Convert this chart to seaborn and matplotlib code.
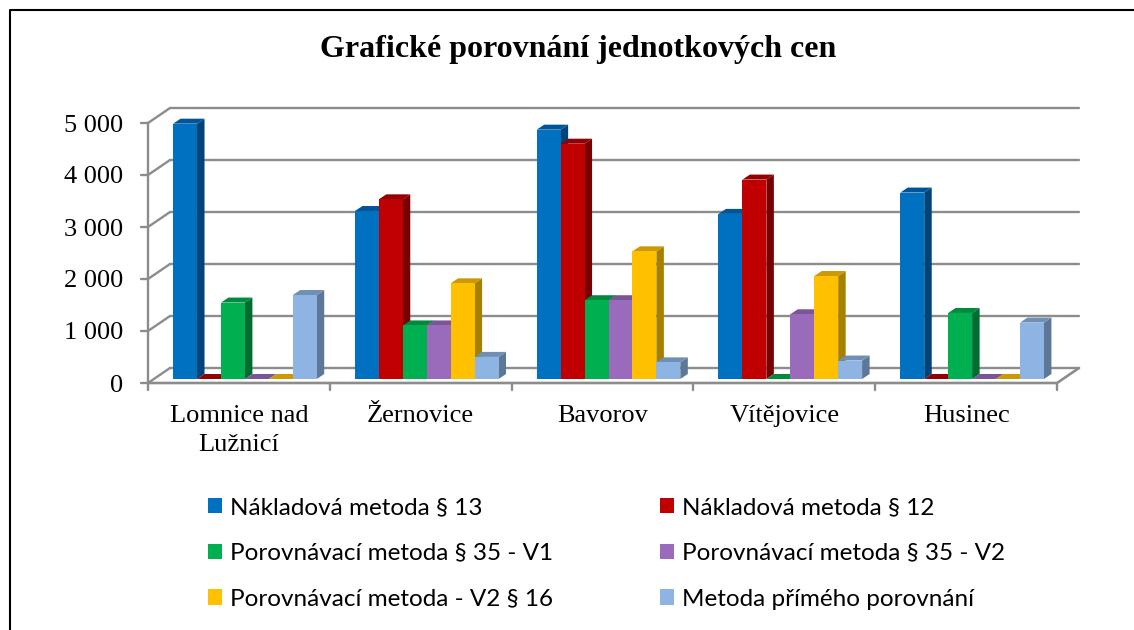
import numpy as np
import pandas as pd
import seaborn as sns
import matplotlib
matplotlib.use("Agg")
import matplotlib.pyplot as plt
from matplotlib.patches import Polygon, Patch
from matplotlib.lines import Line2D
from matplotlib.transforms import ScaledTranslation, IdentityTransform

# ---------------- data ----------------
categories = ["Lomnice nad\nLužnicí", "Žernovice", "Bavorov", "Vítějovice", "Husinec"]
series = ["Nákladová metoda § 13", "Nákladová metoda § 12",
          "Porovnávací metoda § 35 - V1", "Porovnávací metoda § 35 - V2",
          "Porovnávací metoda - V2 § 16", "Metoda přímého porovnání"]
naklad_13 = [4910, 3230, 4795, 3175, 3585]
naklad_12 = [0, 3455, 4525, 3835, 0]
porov_v1 = [1470, 1030, 1515, 0, 1270]
porov_v2 = [0, 1030, 1515, 1245, 0]
porov_16 = [0, 1840, 2455, 1980, 0]
prime = [1615, 425, 320, 355, 1085]
yticks = [0, 1000, 2000, 3000, 4000, 5000]
ytick_labels = ["0", "1 000", "2 000", "3 000", "4 000", "5 000"]
title = "Grafické porovnání jednotkových cen"

front_colors = ["#0070C0", "#C00000", "#00B050", "#9A6BBA", "#FFC000", "#8DB4E2"]
top_colors = ["#00559A", "#920000", "#008A3E", "#7A5698", "#CC9A00", "#6F8FB5"]
side_colors = ["#00447A", "#780000", "#006C30", "#654780", "#A88000", "#5C7896"]

values = [naklad_13, naklad_12, porov_v1, porov_v2, porov_16, prime]
df = pd.DataFrame([(c, s, v) for s, vals in zip(series, values) for c, v in zip(categories, vals)],
                  columns=["cat", "series", "value"])

# ---------------- figure ----------------
W, H, DPI = 1134, 630, 100
sns.set_theme(style="white")
plt.rcParams["font.family"] = ["Liberation Serif", "DejaVu Serif"]
plt.rcParams["text.color"] = "black"
plt.rcParams["xtick.color"] = "black"
plt.rcParams["ytick.color"] = "black"
fig = plt.figure(figsize=(W / DPI, H / DPI), dpi=DPI)
fig.patch.set_facecolor("white")

# axes = plane of the bar fronts (pixel geometry measured from reference)
x_left, x_right = 154, 1063
y_zero, y_top = 379, 119
ax = fig.add_axes([x_left / W, 1 - y_zero / H, (x_right - x_left) / W, (y_zero - y_top) / H])
ax.set_facecolor("none")

sns.barplot(data=df, x="cat", y="value", hue="series", hue_order=series,
            palette=front_colors, width=0.79, saturation=1, ax=ax, legend=False)
bar_patches = list(ax.patches)
ax.set_xlim(-0.5, len(categories) - 0.5)
ax.set_ylim(0, 5000)
for s in ax.spines.values():
    s.set_visible(False)
ax.set_xlabel("")
ax.set_ylabel("")

# depth geometry (pixels, relative to bar plane)
FRONT = np.array([-6.0, -4.0])
BACK = np.array([16.0, 11.0])
BAR_D = np.array([7.5, 5.0])

def P(x, y, off):
    p = ax.transData.transform((x, y))
    return p + off

grid_c = "#8C8C8C"
ID = IdentityTransform()
x0, x1 = -0.5, len(categories) - 0.5

# floor
floor = [P(x0, 0, FRONT), P(x1, 0, FRONT), P(x1, 0, BACK), P(x0, 0, BACK)]
ax.add_artist(Polygon(floor, closed=True, facecolor="white", edgecolor="none",
                      transform=ID, zorder=1, clip_on=False))
# back wall & left wall gridlines
for v in yticks:
    a, b = P(x0, v, BACK), P(x1, v, BACK)
    ax.add_artist(Line2D([a[0], b[0]], [a[1], b[1]], color=grid_c, lw=1.7,
                         transform=ID, zorder=2, clip_on=False))
    f = P(x0, v, FRONT)
    ax.add_artist(Line2D([f[0], a[0]], [f[1], a[1]], color=grid_c, lw=1.7,
                         transform=ID, zorder=2, clip_on=False))
    ax.add_artist(Line2D([f[0] - 7, f[0]], [f[1], f[1]], color=grid_c, lw=1.7,
                         transform=ID, zorder=2, clip_on=False))
# floor front & right edges
fa, fb, bb = P(x0, 0, FRONT), P(x1, 0, FRONT), P(x1, 0, BACK)
ax.add_artist(Line2D([fa[0], fb[0], bb[0]], [fa[1], fb[1], bb[1]], color=grid_c, lw=1.9,
                     transform=ID, zorder=2, clip_on=False))
# vertical axis
top = P(x0, 5000, FRONT)
ax.add_artist(Line2D([fa[0], top[0]], [fa[1], top[1]], color=grid_c, lw=1.7,
                     transform=ID, zorder=2, clip_on=False))
# category tick marks
for i in range(len(categories) + 1):
    p = P(x0 + i, 0, FRONT)
    ax.add_artist(Line2D([p[0], p[0]], [p[1], p[1] - 7], color=grid_c, lw=1.7,
                         transform=ID, zorder=2, clip_on=False))

# 3D bar faces (seaborn order is hue-major)
n_cat = len(categories)
color_idx = {id(r): i // n_cat for i, r in enumerate(bar_patches)}
for k, r in enumerate(sorted(bar_patches, key=lambda r: r.get_x())):
    ci = color_idx[id(r)]
    z = 10 + 3 * k
    r.set_zorder(z + 2)
    r.set_edgecolor("none")
    r.set_clip_on(False)
    xl, w, h = r.get_x(), r.get_width(), r.get_height()
    tl, tr = ax.transData.transform((xl, h)), ax.transData.transform((xl + w, h))
    br = ax.transData.transform((xl + w, 0))
    top_poly = [tl, tr, tr + BAR_D, tl + BAR_D]
    side_poly = [br, tr, tr + BAR_D, br + BAR_D]
    ax.add_artist(Polygon(top_poly, closed=True, facecolor=top_colors[ci], edgecolor="none",
                          transform=ID, zorder=z + 1, clip_on=False))
    ax.add_artist(Polygon(side_poly, closed=True, facecolor=side_colors[ci], edgecolor="none",
                          transform=ID, zorder=z, clip_on=False))

# ticks
ax.set_yticks(yticks)
ax.set_yticklabels(ytick_labels)
ax.tick_params(axis="y", length=0, pad=22, labelsize=19, labelcolor="black")
ax.tick_params(axis="x", length=0, pad=19, labelsize=19, labelcolor="black")
for lab in ax.get_yticklabels():
    lab.set_transform(lab.get_transform() + ScaledTranslation(0, -4 / DPI, fig.dpi_scale_trans))
for lab in ax.get_xticklabels():
    lab.set_transform(lab.get_transform() + ScaledTranslation(-6 / DPI, 0, fig.dpi_scale_trans))
    lab.set_linespacing(1.4)

# title
fig.text(578 / W, 1 - 50 / H, title, ha="center", va="center", fontsize=23,
         fontweight="bold", color="black", family=["Liberation Serif", "DejaVu Serif"])

# legend
handles = [Patch(facecolor=c, edgecolor="none") for c in front_colors]
order = [0, 2, 4, 1, 3, 5]
leg = fig.legend([handles[i] for i in order], [series[i] for i in order], ncol=2,
                 loc="upper left", bbox_to_anchor=(208 / W, 1 - 497 / H), frameon=False,
                 prop={"family": ["Lato", "DejaVu Sans"], "size": 17.5},
                 handlelength=0.58, handleheight=0.58, handletextpad=0.33,
                 columnspacing=4.4, labelspacing=1.02, borderaxespad=0, borderpad=0)
for t in leg.get_texts():
    t.set_color("black")

# outer frame (left & top only)
fig.add_artist(Line2D([10 / W, 10 / W, 1.0], [0.0, 1 - 10 / H, 1 - 10 / H],
                      transform=fig.transFigure, color="black", lw=1.5))

fig.savefig("out.png", dpi=DPI)
